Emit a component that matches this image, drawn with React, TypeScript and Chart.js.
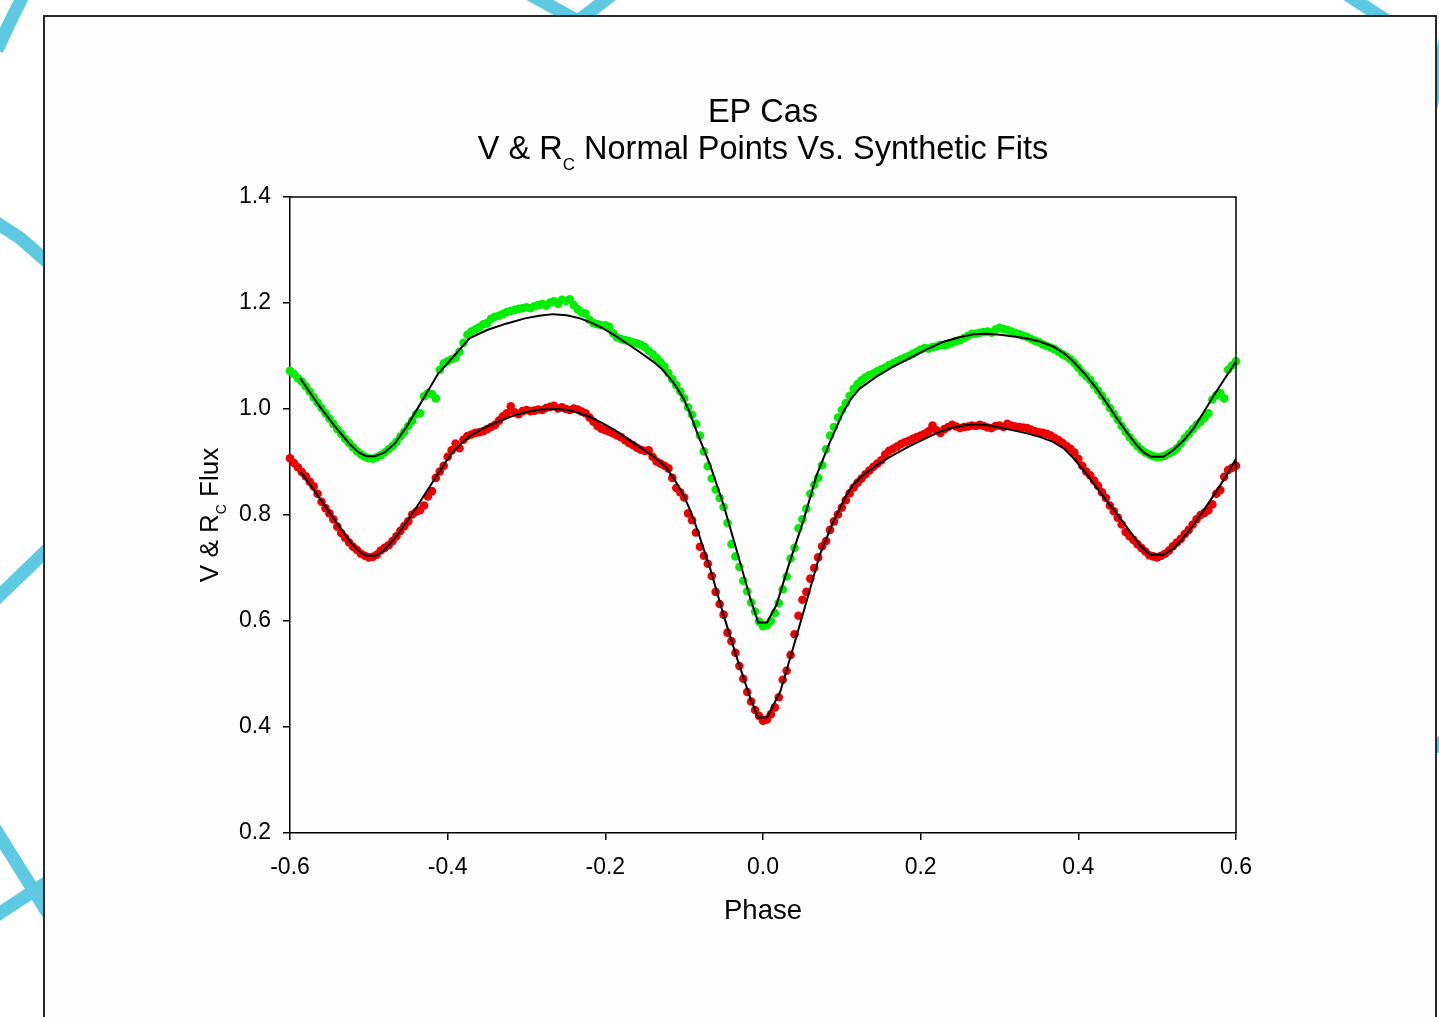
import { useEffect, useRef } from 'react';
import { Chart, registerables } from 'chart.js';

Chart.register(...registerables);

const FONT = '"Liberation Sans", Arial, Helvetica, sans-serif';
const W = 1439;
const H = 1017;

// Orbital phase of every normal point (shared by both passbands)
const PHASE = [
  -0.600, -0.595, -0.590, -0.585, -0.580, -0.575, -0.570, -0.565, -0.560, -0.555,
  -0.550, -0.545, -0.540, -0.535, -0.530, -0.525, -0.520, -0.515, -0.510, -0.505,
  -0.500, -0.495, -0.490, -0.485, -0.480, -0.475, -0.470, -0.465, -0.460, -0.455,
  -0.450, -0.445, -0.440, -0.435, -0.430, -0.425, -0.420, -0.415, -0.410, -0.405,
  -0.400, -0.395, -0.390, -0.385, -0.380, -0.375, -0.370, -0.365, -0.360, -0.355,
  -0.350, -0.345, -0.340, -0.335, -0.330, -0.325, -0.320, -0.315, -0.310, -0.305,
  -0.300, -0.295, -0.290, -0.285, -0.280, -0.275, -0.270, -0.265, -0.260, -0.255,
  -0.250, -0.245, -0.240, -0.235, -0.230, -0.225, -0.220, -0.215, -0.210, -0.205,
  -0.200, -0.195, -0.190, -0.185, -0.180, -0.175, -0.170, -0.165, -0.160, -0.155,
  -0.150, -0.145, -0.140, -0.135, -0.130, -0.125, -0.120, -0.115, -0.110, -0.105,
  -0.100, -0.095, -0.090, -0.085, -0.080, -0.075, -0.070, -0.065, -0.060, -0.055,
  -0.050, -0.045, -0.040, -0.035, -0.030, -0.025, -0.020, -0.015, -0.010, -0.005,
  0.000, 0.005, 0.010, 0.015, 0.020, 0.025, 0.030, 0.035, 0.040, 0.045,
  0.050, 0.055, 0.060, 0.065, 0.070, 0.075, 0.080, 0.085, 0.090, 0.095,
  0.100, 0.105, 0.110, 0.115, 0.120, 0.125, 0.130, 0.135, 0.140, 0.145,
  0.150, 0.155, 0.160, 0.165, 0.170, 0.175, 0.180, 0.185, 0.190, 0.195,
  0.200, 0.205, 0.210, 0.215, 0.220, 0.225, 0.230, 0.235, 0.240, 0.245,
  0.250, 0.255, 0.260, 0.265, 0.270, 0.275, 0.280, 0.285, 0.290, 0.295,
  0.300, 0.305, 0.310, 0.315, 0.320, 0.325, 0.330, 0.335, 0.340, 0.345,
  0.350, 0.355, 0.360, 0.365, 0.370, 0.375, 0.380, 0.385, 0.390, 0.395,
  0.400, 0.405, 0.410, 0.415, 0.420, 0.425, 0.430, 0.435, 0.440, 0.445,
  0.450, 0.455, 0.460, 0.465, 0.470, 0.475, 0.480, 0.485, 0.490, 0.495,
  0.500, 0.505, 0.510, 0.515, 0.520, 0.525, 0.530, 0.535, 0.540, 0.545,
  0.550, 0.555, 0.560, 0.565, 0.570, 0.575, 0.580, 0.585, 0.590, 0.595,
  0.600,
];

// V normal points (normalised flux)
const V_FLUX = [
  1.072, 1.066, 1.058, 1.052, 1.043, 1.033, 1.022, 1.012, 1.002, 0.992,
  0.982, 0.972, 0.962, 0.953, 0.944, 0.936, 0.928, 0.920, 0.914, 0.910,
  0.907, 0.906, 0.909, 0.913, 0.918, 0.924, 0.930, 0.938, 0.948, 0.957,
  0.968, 0.978, 0.990, 0.992, 1.024, 1.030, 1.028, 1.020, 1.074, 1.086,
  1.090, 1.094, 1.097, 1.108, 1.125, 1.140, 1.146, 1.150, 1.154, 1.160,
  1.162, 1.170, 1.174, 1.176, 1.179, 1.183, 1.185, 1.187, 1.189, 1.190,
  1.192, 1.190, 1.194, 1.196, 1.198, 1.195, 1.201, 1.203, 1.198, 1.206,
  1.204, 1.207, 1.196, 1.188, 1.182, 1.180, 1.168, 1.162, 1.160, 1.158,
  1.158, 1.155, 1.143, 1.135, 1.132, 1.130, 1.128, 1.126, 1.124, 1.121,
  1.117, 1.110, 1.103, 1.096, 1.088, 1.080, 1.068, 1.056, 1.045, 1.033,
  1.020, 1.003, 0.989, 0.972, 0.950, 0.920, 0.892, 0.869, 0.848, 0.832,
  0.815, 0.785, 0.745, 0.722, 0.702, 0.676, 0.656, 0.635, 0.618, 0.599,
  0.590, 0.592, 0.600, 0.615, 0.634, 0.660, 0.684, 0.718, 0.738, 0.775,
  0.792, 0.812, 0.840, 0.857, 0.870, 0.894, 0.924, 0.950, 0.966, 0.984,
  0.998, 1.011, 1.025, 1.038, 1.047, 1.054, 1.060, 1.064, 1.067, 1.071,
  1.075, 1.078, 1.083, 1.086, 1.090, 1.094, 1.097, 1.100, 1.104, 1.108,
  1.112, 1.115, 1.114, 1.117, 1.118, 1.121, 1.120, 1.122, 1.125, 1.128,
  1.130, 1.134, 1.138, 1.142, 1.142, 1.144, 1.145, 1.146, 1.144, 1.150,
  1.153, 1.151, 1.149, 1.146, 1.144, 1.141, 1.138, 1.136, 1.132, 1.129,
  1.126, 1.122, 1.119, 1.116, 1.113, 1.108, 1.103, 1.099, 1.094, 1.087,
  1.078, 1.069, 1.062, 1.055, 1.045, 1.035, 1.025, 1.014, 1.002, 0.991,
  0.980, 0.968, 0.957, 0.947, 0.938, 0.930, 0.923, 0.918, 0.914, 0.911,
  0.909, 0.910, 0.912, 0.916, 0.920, 0.926, 0.935, 0.945, 0.953, 0.962,
  0.970, 0.976, 0.983, 0.992, 1.018, 1.026, 1.030, 1.020, 1.074, 1.082,
  1.090,
];

// Rc normal points (normalised flux)
const RC_FLUX = [
  0.907, 0.898, 0.890, 0.881, 0.873, 0.863, 0.854, 0.840, 0.825, 0.813,
  0.803, 0.792, 0.778, 0.766, 0.757, 0.748, 0.740, 0.734, 0.727, 0.723,
  0.720, 0.721, 0.725, 0.733, 0.738, 0.743, 0.751, 0.760, 0.770, 0.779,
  0.788, 0.801, 0.806, 0.809, 0.818, 0.835, 0.845, 0.870, 0.882, 0.893,
  0.910, 0.922, 0.935, 0.926, 0.942, 0.949, 0.952, 0.955, 0.956, 0.958,
  0.962, 0.966, 0.970, 0.978, 0.986, 0.992, 1.005, 0.994, 0.990, 0.996,
  0.998, 0.996, 0.997, 0.999, 0.998, 1.002, 1.004, 1.006, 1.001, 1.003,
  1.000, 0.998, 1.001, 0.999, 0.995, 0.992, 0.984, 0.976, 0.968, 0.963,
  0.960, 0.957, 0.954, 0.950, 0.947, 0.941, 0.936, 0.932, 0.927, 0.923,
  0.921, 0.922, 0.910, 0.901, 0.897, 0.893, 0.888, 0.870, 0.851, 0.843,
  0.833, 0.803, 0.790, 0.767, 0.740, 0.723, 0.708, 0.685, 0.655, 0.632,
  0.612, 0.578, 0.562, 0.540, 0.515, 0.491, 0.466, 0.448, 0.432, 0.421,
  0.412, 0.414, 0.424, 0.437, 0.456, 0.489, 0.506, 0.536, 0.575, 0.610,
  0.640, 0.655, 0.680, 0.700, 0.720, 0.741, 0.751, 0.772, 0.788, 0.801,
  0.814, 0.828, 0.841, 0.852, 0.861, 0.869, 0.877, 0.884, 0.891, 0.897,
  0.903, 0.914, 0.921, 0.925, 0.929, 0.934, 0.937, 0.940, 0.944, 0.947,
  0.950, 0.953, 0.958, 0.969, 0.960, 0.955, 0.962, 0.966, 0.970, 0.967,
  0.964, 0.966, 0.967, 0.969, 0.968, 0.970, 0.968, 0.965, 0.964, 0.968,
  0.969, 0.966, 0.972, 0.969, 0.967, 0.966, 0.965, 0.964, 0.961, 0.958,
  0.956, 0.955, 0.953, 0.950, 0.945, 0.941, 0.936, 0.930, 0.925, 0.918,
  0.906, 0.893, 0.882, 0.875, 0.865, 0.855, 0.843, 0.832, 0.818, 0.807,
  0.795, 0.782, 0.768, 0.760, 0.753, 0.745, 0.738, 0.731, 0.724, 0.722,
  0.720, 0.723, 0.727, 0.733, 0.741, 0.748, 0.755, 0.764, 0.772, 0.782,
  0.792, 0.800, 0.804, 0.809, 0.820, 0.840, 0.847, 0.872, 0.885, 0.889,
  0.893,
];

// Synthetic light-curve solution, V band
const V_FIT_PHASE = [
  -0.587, -0.565, -0.543, -0.525, -0.513, -0.503, -0.492, -0.480, -0.467, -0.452,
  -0.437, -0.424, -0.412, -0.398, -0.386, -0.372, -0.350, -0.326, -0.302, -0.284,
  -0.266, -0.249, -0.232, -0.218, -0.203, -0.188, -0.173, -0.156, -0.139, -0.128,
  -0.118, -0.110, -0.101, -0.092, -0.084, -0.067, -0.050, -0.033, -0.016, -0.006,
  0.005, 0.017, 0.034, 0.051, 0.068, 0.085, 0.102, 0.112, 0.123, 0.144,
  0.165, 0.186, 0.207, 0.229, 0.248, 0.267, 0.284, 0.301, 0.318, 0.335,
  0.352, 0.368, 0.382, 0.394, 0.409, 0.423, 0.436, 0.449, 0.462, 0.474,
  0.483, 0.492, 0.508, 0.521, 0.533, 0.546, 0.559, 0.572, 0.586, 0.600,
];
const V_FIT_FLUX = [
  1.058, 1.010, 0.967, 0.935, 0.918, 0.911, 0.911, 0.918, 0.935, 0.967,
  1.004, 1.037, 1.067, 1.090, 1.110, 1.134, 1.149, 1.161, 1.171, 1.176,
  1.179, 1.177, 1.171, 1.163, 1.152, 1.139, 1.124, 1.107, 1.089, 1.075,
  1.058, 1.042, 1.020, 0.990, 0.957, 0.894, 0.819, 0.731, 0.642, 0.597,
  0.597, 0.630, 0.712, 0.788, 0.875, 0.938, 0.995, 1.020, 1.039, 1.061,
  1.080, 1.096, 1.112, 1.127, 1.135, 1.141, 1.142, 1.140, 1.137, 1.133,
  1.127, 1.118, 1.105, 1.089, 1.065, 1.039, 1.011, 0.982, 0.955, 0.932,
  0.918, 0.910, 0.910, 0.923, 0.940, 0.963, 0.994, 1.026, 1.058, 1.090,
];

// Synthetic light-curve solution, Rc band
const RC_FIT_PHASE = [
  -0.587, -0.575, -0.564, -0.543, -0.522, -0.512, -0.503, -0.492, -0.480, -0.465,
  -0.450, -0.435, -0.420, -0.407, -0.395, -0.382, -0.370, -0.353, -0.336, -0.319,
  -0.302, -0.282, -0.262, -0.247, -0.232, -0.218, -0.203, -0.188, -0.173, -0.156,
  -0.139, -0.130, -0.122, -0.112, -0.101, -0.092, -0.084, -0.067, -0.050, -0.033,
  -0.016, -0.006, 0.005, 0.022, 0.038, 0.055, 0.072, 0.089, 0.106, 0.116,
  0.127, 0.146, 0.165, 0.186, 0.207, 0.224, 0.241, 0.258, 0.275, 0.291,
  0.307, 0.335, 0.352, 0.368, 0.382, 0.394, 0.411, 0.427, 0.440, 0.453,
  0.466, 0.478, 0.491, 0.508, 0.521, 0.533, 0.546, 0.559, 0.572, 0.586,
  0.600,
];
const RC_FIT_FLUX = [
  0.882, 0.858, 0.835, 0.790, 0.747, 0.731, 0.723, 0.723, 0.734, 0.760,
  0.791, 0.825, 0.860, 0.890, 0.916, 0.936, 0.951, 0.965, 0.976, 0.986,
  0.994, 0.999, 1.000, 0.998, 0.992, 0.984, 0.973, 0.960, 0.945, 0.928,
  0.910, 0.900, 0.888, 0.866, 0.838, 0.808, 0.775, 0.699, 0.611, 0.530,
  0.454, 0.418, 0.418, 0.467, 0.548, 0.636, 0.725, 0.787, 0.838, 0.860,
  0.875, 0.896, 0.913, 0.930, 0.945, 0.957, 0.965, 0.970, 0.971, 0.968,
  0.963, 0.954, 0.947, 0.938, 0.925, 0.907, 0.876, 0.844, 0.819, 0.794,
  0.768, 0.743, 0.725, 0.725, 0.737, 0.757, 0.781, 0.809, 0.838, 0.870,
  0.906,
];

const X_MIN = -0.6;
const X_MAX = 0.6;
const X_STEP = 0.2;
const Y_MIN = 0.2;
const Y_MAX = 1.4;
const Y_STEP = 0.2;

const TITLE = 'EP Cas';
const SUBTITLE_HEAD = 'V & R';
const SUBTITLE_SUB = 'C';
const SUBTITLE_TAIL = ' Normal Points Vs. Synthetic Fits';
const X_TITLE = 'Phase';
const Y_TITLE_HEAD = 'V & R';
const Y_TITLE_SUB = 'C';
const Y_TITLE_TAIL = ' Flux';

const V_COLOR = '#00ee00';
const RC_COLOR = '#ee0000';
const RIBBON = '#5ecae2';

const pairs = (xs: number[], ys: number[]) => xs.map((x, i) => ({ x, y: ys[i] }));

const fmt = (v: number) => (Math.abs(v) < 1e-9 ? '0.0' : Number(v).toFixed(1));

// Page backdrop: decorative ribbons behind a framed white sheet
const backdrop = {
  id: 'backdrop',
  beforeDraw(chart: Chart) {
    const ctx = chart.ctx;
    ctx.save();
    ctx.fillStyle = '#ffffff';
    ctx.fillRect(0, 0, W, H);

    ctx.strokeStyle = RIBBON;
    ctx.lineWidth = 13;
    ctx.lineCap = 'butt';
    ctx.lineJoin = 'miter';
    const ribbons: number[][][] = [
      [[-3, 50], [10, 22], [24, -6]],
      [[-6, 221], [20, 238], [52, 266]],
      [[529, -6], [578, 21], [613, -6]],
      [[1346, -6], [1392, 24]],
      [[1448, 26], [1430, 112]],
      [[-6, 601], [52, 545]],
      [[-6, 827], [52, 920]],
      [[-6, 917], [52, 879]],
    ];
    for (const r of ribbons) {
      ctx.beginPath();
      ctx.moveTo(r[0][0], r[0][1]);
      for (let i = 1; i < r.length; i++) ctx.lineTo(r[i][0], r[i][1]);
      ctx.stroke();
    }
    ctx.fillStyle = RIBBON;
    ctx.fillRect(1436, 737, 4, 16);

    ctx.fillStyle = '#fdfdfd';
    ctx.fillRect(44, 16, 1392, H);
    ctx.strokeStyle = '#2a2a2a';
    ctx.lineWidth = 2;
    ctx.strokeRect(44, 16, 1392, H + 40);
    ctx.restore();
  },
};

// Top/right frame of the plot, titles with subscripts
const annotations = {
  id: 'annotations',
  afterDraw(chart: Chart) {
    const ctx = chart.ctx;
    const a = chart.chartArea;
    ctx.save();
    ctx.strokeStyle = '#000';
    ctx.lineWidth = 1.5;
    ctx.beginPath();
    ctx.moveTo(a.left, a.top);
    ctx.lineTo(a.right, a.top);
    ctx.lineTo(a.right, a.bottom);
    ctx.stroke();

    ctx.fillStyle = '#000';
    ctx.textBaseline = 'alphabetic';
    ctx.textAlign = 'left';
    const cx = (a.left + a.right) / 2;

    ctx.font = `32.5px ${FONT}`;
    const w1 = ctx.measureText(TITLE).width;
    ctx.fillText(TITLE, cx - w1 / 2, 122);

    const big = `32.5px ${FONT}`;
    const small = `17px ${FONT}`;
    ctx.font = big;
    const wh = ctx.measureText(SUBTITLE_HEAD).width;
    const wt = ctx.measureText(SUBTITLE_TAIL).width;
    ctx.font = small;
    const ws = ctx.measureText(SUBTITLE_SUB).width;
    let x = cx - (wh + ws + wt) / 2;
    ctx.font = big;
    ctx.fillText(SUBTITLE_HEAD, x, 159);
    x += wh;
    ctx.font = small;
    ctx.fillText(SUBTITLE_SUB, x, 170);
    x += ws;
    ctx.font = big;
    ctx.fillText(SUBTITLE_TAIL, x, 159);

    ctx.font = `27.5px ${FONT}`;
    const wp = ctx.measureText(X_TITLE).width;
    ctx.fillText(X_TITLE, cx - wp / 2, 919);

    const cy = (a.top + a.bottom) / 2;
    ctx.translate(218, cy);
    ctx.rotate(-Math.PI / 2);
    const yb = `26px ${FONT}`;
    const ys = `14px ${FONT}`;
    ctx.font = yb;
    const yh = ctx.measureText(Y_TITLE_HEAD).width;
    const yt = ctx.measureText(Y_TITLE_TAIL).width;
    ctx.font = ys;
    const yw = ctx.measureText(Y_TITLE_SUB).width;
    let ly = -(yh + yw + yt) / 2;
    ctx.font = yb;
    ctx.fillText(Y_TITLE_HEAD, ly, 0);
    ly += yh;
    ctx.font = ys;
    ctx.fillText(Y_TITLE_SUB, ly, 8);
    ly += yw;
    ctx.font = yb;
    ctx.fillText(Y_TITLE_TAIL, ly, 0);
    ctx.restore();
  },
};

export default function App() {
  const ref = useRef<HTMLCanvasElement | null>(null);

  useEffect(() => {
    if (!ref.current) return;
    Chart.defaults.font.family = FONT;
    const chart = new Chart(ref.current, {
      type: 'scatter',
      data: {
        datasets: [
          {
            label: 'V fit',
            data: pairs(V_FIT_PHASE, V_FIT_FLUX),
            showLine: true,
            borderColor: '#000',
            borderWidth: 2,
            pointRadius: 0,
            tension: 0,
            order: 0,
          },
          {
            label: 'Rc fit',
            data: pairs(RC_FIT_PHASE, RC_FIT_FLUX),
            showLine: true,
            borderColor: '#000',
            borderWidth: 2,
            pointRadius: 0,
            tension: 0,
            order: 0,
          },
          {
            label: 'V',
            data: pairs(PHASE, V_FLUX),
            backgroundColor: V_COLOR,
            borderWidth: 0,
            pointRadius: 4.3,
            clip: false,
            order: 1,
          },
          {
            label: 'Rc',
            data: pairs(PHASE, RC_FLUX),
            backgroundColor: RC_COLOR,
            borderWidth: 0,
            pointRadius: 4.3,
            clip: false,
            order: 1,
          },
        ],
      },
      options: {
        responsive: false,
        animation: false,
        events: [],
        layout: { padding: { left: 0, top: 197, right: W - 1236, bottom: 0 } },
        plugins: {
          legend: { display: false },
          tooltip: { enabled: false },
          title: { display: false },
        },
        scales: {
          x: {
            type: 'linear',
            min: X_MIN,
            max: X_MAX,
            ticks: {
              stepSize: X_STEP,
              color: '#000',
              font: { size: 23 },
              padding: 14,
              maxRotation: 0,
              autoSkip: false,
              callback: (v: any) => fmt(Number(v)),
            },
            grid: { drawOnChartArea: false, drawTicks: true, tickLength: 7, color: '#000', lineWidth: 1.5 },
            border: { display: true, color: '#000', width: 1.5 },
            afterFit: (s: any) => {
              s.height = H - 833;
              s.paddingLeft = 0;
              s.paddingRight = 0;
            },
          },
          y: {
            type: 'linear',
            min: Y_MIN,
            max: Y_MAX,
            ticks: {
              stepSize: Y_STEP,
              color: '#000',
              font: { size: 23 },
              padding: 12,
              autoSkip: false,
              callback: (v: any) => fmt(Number(v)),
            },
            grid: { drawOnChartArea: false, drawTicks: true, tickLength: 7, color: '#000', lineWidth: 1.5 },
            border: { display: true, color: '#000', width: 1.5 },
            afterFit: (s: any) => {
              s.width = 290;
              s.paddingTop = 0;
              s.paddingBottom = 0;
            },
          },
        },
      },
      plugins: [backdrop, annotations],
    } as any);
    return () => chart.destroy();
  }, []);

  return (
    <div style={{ position: 'fixed', left: 0, top: 0, width: W, height: H, overflow: 'hidden' }}>
      <canvas ref={ref} width={W} height={H} style={{ display: 'block', width: W, height: H }} />
    </div>
  );
}
